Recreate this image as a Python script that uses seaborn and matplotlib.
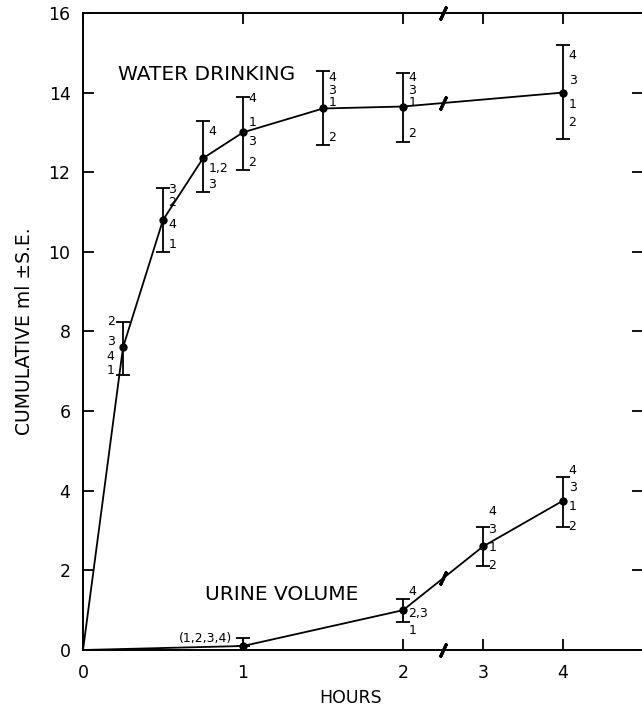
import numpy as np
import matplotlib
matplotlib.use("Agg")
import matplotlib.pyplot as plt
import seaborn as sns

# --- dane ---
water_hours = [0, 0.25, 0.5, 0.75, 1, 1.5, 2, 4]
water_mean = [0, 7.6, 10.8, 12.35, 13.0, 13.6, 13.65, 14.0]
water_lo = [0, 6.9, 10.0, 11.5, 12.05, 12.68, 12.75, 12.83]
water_hi = [0, 8.25, 11.6, 13.28, 13.9, 14.55, 14.5, 15.2]

urine_hours = [0, 1, 2, 3, 4]
urine_mean = [0, 0.1, 1.0, 2.6, 3.75]
urine_lo = [0, 0.1, 0.7, 2.1, 3.1]
urine_hi = [0, 0.3, 1.28, 3.1, 4.35]

x_ticks = [0, 1, 2, 3, 4]
y_ticks = list(range(0, 17, 2))

# numery zwierzat przy slupkach bledu: (godzina, wartosc, tekst)
water_tags = [
    (0.25, 8.25, "2"), (0.25, 7.75, "3"), (0.25, 7.37, "4"), (0.25, 7.02, "1"),
    (0.5, 11.57, "3"), (0.5, 11.25, "2"), (0.5, 10.69, "4"), (0.5, 10.19, "1"),
    (0.75, 13.03, "4"), (0.75, 12.1, "1,2"), (0.75, 11.7, "3"),
    (1, 13.84, "4"), (1, 13.26, "1"), (1, 12.78, "3"), (1, 12.25, "2"),
    (1.5, 14.39, "4"), (1.5, 14.06, "3"), (1.5, 13.74, "1"), (1.5, 12.86, "2"),
    (2, 14.39, "4"), (2, 14.06, "3"), (2, 13.74, "1"), (2, 12.96, "2"),
    (4, 14.92, "4"), (4, 14.31, "3"), (4, 13.69, "1"), (4, 13.26, "2"),
]
urine_tags = [
    (2, 1.46, "4"), (2, 0.91, "2,3"), (2, 0.5, "1"),
    (3, 3.47, "4"), (3, 3.02, "3"), (3, 2.57, "1"), (3, 2.11, "2"),
    (4, 4.5, "4"), (4, 4.08, "3"), (4, 3.6, "1"), (4, 3.09, "2"),
]
left_tags = {0.25}


def fwd(h):
    h = np.asarray(h, dtype=float)
    return np.where(h <= 2, h, 2 + (h - 2) * 0.5)


def inv(f):
    f = np.asarray(f, dtype=float)
    return np.where(f <= 2, f, 2 + (f - 2) * 2)


def main():
    sns.set_theme(style="ticks")
    plt.rcParams["font.family"] = ["DejaVu Sans"]
    plt.rcParams["text.color"] = "black"
    plt.rcParams["axes.labelcolor"] = "black"

    fig = plt.figure(figsize=(6.42, 7.11), dpi=100)
    ax = fig.add_axes([0.1293, 0.0858, 0.8723, 0.896])
    ax.set_xscale("function", functions=(fwd, inv))

    for hrs, mean, lo, hi in [(water_hours, water_mean, water_lo, water_hi),
                              (urine_hours, urine_mean, urine_lo, urine_hi)]:
        sns.lineplot(x=hrs, y=mean, ax=ax, color="black", linewidth=1.3,
                     marker="o", markersize=6, markeredgewidth=0,
                     markevery=list(range(1, len(hrs))), estimator=None)
        m = np.array(mean[1:])
        ax.errorbar(hrs[1:], m, yerr=[m - np.array(lo[1:]), np.array(hi[1:]) - m],
                    fmt="none", ecolor="black", elinewidth=1.3, capsize=5, capthick=1.3)

    for h, v, t in water_tags + urine_tags:
        if h in left_tags:
            ax.annotate(t, (h, v), xytext=(-6, 0), textcoords="offset points",
                        ha="right", va="center", fontsize=9)
        else:
            ax.annotate(t, (h, v), xytext=(4, 0), textcoords="offset points",
                        ha="left", va="center", fontsize=9)
    ax.annotate("(1,2,3,4)", (1, 0.28), xytext=(-8, 0), textcoords="offset points",
                ha="right", va="center", fontsize=9)

    # znaczniki przerwania osi czasu
    brk = 2.5
    for yv in [0, 16, 13.74, 1.8]:
        ax.plot([brk], [yv], marker=(2, 2, -25), markersize=11, mew=2.2,
                color="black", clip_on=False, zorder=5)

    ax.text(0.22, 14.45, "WATER DRINKING", fontsize=14.5, ha="left", va="center")
    ax.text(0.76, 1.4, "URINE VOLUME", fontsize=14.5, ha="left", va="center")

    ax.set_xlim(0, 5)
    ax.set_ylim(0, 16)
    ax.set_xticks(x_ticks)
    ax.set_xticklabels([str(t) for t in x_ticks])
    ax.set_yticks(y_ticks)
    ax.set_yticklabels([str(t) for t in y_ticks])
    ax.minorticks_off()
    ax.tick_params(direction="in", length=8, width=1.3, labelsize=12.5,
                   top=True, right=True, colors="black")
    ax.tick_params(axis="y", pad=9)
    ax.tick_params(axis="x", pad=10)
    ax.spines["right"].set_visible(False)
    for s in ["left", "bottom", "top"]:
        ax.spines[s].set_linewidth(1.4)
        ax.spines[s].set_color("black")

    ax.set_xlabel("HOURS", fontsize=12.5)
    ax.xaxis.set_label_coords(0.477, -0.062)
    ax.set_ylabel("CUMULATIVE ml \u00b1S.E.", fontsize=13.5, labelpad=10)

    fig.savefig("out.png", dpi=100)
    plt.close(fig)


if __name__ == "__main__":
    main()
